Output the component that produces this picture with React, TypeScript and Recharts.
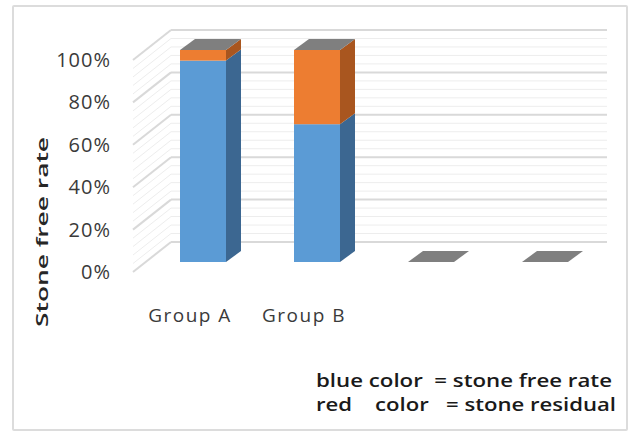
import { BarChart, Bar, XAxis, YAxis, CartesianGrid } from 'recharts';

const categories = ['Group A', 'Group B', '', ''];
const stoneFree = [0.95, 0.65, 0, 0];
const stoneResidual = [0.05, 0.35, 0, 0];
const capValues = [0, 0, 0, 0];
const yTicks = [0, 0.2, 0.4, 0.6, 0.8, 1];
const minorTicks = [
  0.04, 0.08, 0.12, 0.16, 0.24, 0.28, 0.32, 0.36, 0.44, 0.48, 0.52, 0.56,
  0.64, 0.68, 0.72, 0.76, 0.84, 0.88, 0.92, 0.96,
];
const noteLines = ['blue color  = stone free rate', 'red    color   = stone residual'];

const data = categories.map((name, i) => ({
  name: name || ' '.repeat(i),
  free: stoneFree[i],
  residual: stoneResidual[i],
  cap: capValues[i],
}));

// oblique "3d" offsets
const WALL_DX = 38;
const WALL_DY = 30;
const BAR_DX = 13;
const BAR_DY = 10;
const SIDE_DX = 15;
const SIDE_DY = 11;

const gridGen = (values: number[]) => (args: any) => {
  const { yAxis, offset } = args;
  return values.map((v) =>
    yAxis && typeof yAxis.scale === 'function'
      ? yAxis.scale(v)
      : offset.top + offset.height * (1 - v)
  );
};

const wallLine = (stroke: string, sw: number) => (p: any) => (
  <g key={p.key}>
    <line x1={p.x1} y1={p.y1} x2={p.x1 + WALL_DX} y2={p.y1 - WALL_DY} stroke={stroke} strokeWidth={sw} />
    <line x1={p.x1 + WALL_DX} y1={p.y1 - WALL_DY} x2={p.x2 + 18} y2={p.y1 - WALL_DY} stroke={stroke} strokeWidth={sw} />
  </g>
);

const box = (front: string, side: string) => (props: any) => {
  const { x, y, width, height } = props;
  if (x == null || y == null) return <g />;
  const fx = x + BAR_DX;
  const fy = y - BAR_DY;
  const h = Math.max(height, 0);
  return (
    <g>
      <rect x={fx} y={fy} width={width} height={h} fill={front} />
      <polygon
        points={`${fx + width},${fy} ${fx + width + SIDE_DX},${fy - SIDE_DY} ${fx + width + SIDE_DX},${fy + h - SIDE_DY} ${fx + width},${fy + h}`}
        fill={side}
      />
    </g>
  );
};

const capShape = (props: any) => {
  const { x, y, width } = props;
  if (x == null || y == null) return <g />;
  const fx = x + BAR_DX;
  const fy = y - BAR_DY;
  return (
    <polygon
      points={`${fx},${fy} ${fx + width},${fy} ${fx + width + SIDE_DX},${fy - SIDE_DY} ${fx + SIDE_DX},${fy - SIDE_DY}`}
      fill="#7f7f7f"
    />
  );
};

const YTick = (props: any) => (
  <text x={props.x} y={props.y} dy={7} textAnchor="end" fill="#3a3a3a"
    style={{ fontFamily: 'Open Sans', fontSize: 20, letterSpacing: 1 }}>
    {`${Math.round(props.payload.value * 100)}%`}
  </text>
);

const XTick = (props: any) => (
  <text x={props.x} y={props.y + 50} textAnchor="middle" fill="#3a3a3a"
    style={{ fontFamily: 'Open Sans', fontSize: 19, letterSpacing: 1.5 }}>
    {props.payload.value.trim()}
  </text>
);

const axisTitle = (props: any) => {
  const vb = props.viewBox || { x: 0 };
  const cx = vb.x + 42;
  const cy = 232;
  return (
    <text x={cx} y={cy} transform={`rotate(-90 ${cx} ${cy})`} textAnchor="middle" dy={6}
      textLength={190} lengthAdjust="spacingAndGlyphs"
      fill="#262626" style={{ fontFamily: 'Open Sans', fontSize: 17, fontWeight: 600 }}>
      Stone free rate
    </text>
  );
};

export default function App() {
  return (
    <div style={{ position: 'absolute', left: 0, top: 0, width: 633, height: 434, background: '#fff' }}>
      <div style={{ position: 'absolute', left: 12, top: 5, width: 612, height: 422, border: '2px solid #dcdcdc', borderRadius: 2 }} />
      <div style={{ position: 'absolute', left: 0, top: 0 }}>
        <BarChart width={633} height={434} data={data} margin={{ top: 60, right: 44, bottom: 102, left: 0 }}>
          <CartesianGrid vertical={false} horizontalCoordinatesGenerator={gridGen(minorTicks)}
            horizontal={wallLine('#ededed', 1)} />
          <CartesianGrid vertical={false} horizontalCoordinatesGenerator={gridGen(yTicks)}
            horizontal={wallLine('#d9d9d9', 2)} />
          <XAxis dataKey="name" height={60} axisLine={false} tickLine={false} tickSize={0} tickMargin={0}
            tick={<XTick />} interval={0} />
          <YAxis width={133} domain={[0, 1]} ticks={yTicks} axisLine={false} tickLine={false}
            tickSize={0} tickMargin={22} tick={<YTick />} label={{ value: 'Stone free rate', content: axisTitle }} />
          <Bar dataKey="free" stackId="a" barSize={46} isAnimationActive={false} shape={box('#5b9bd5', '#3c6791')} />
          <Bar dataKey="residual" stackId="a" barSize={46} isAnimationActive={false} shape={box('#ed7d31', '#a9561f')} />
          <Bar dataKey="cap" stackId="a" barSize={46} isAnimationActive={false} shape={capShape} />
        </BarChart>
      </div>
      <svg width={633} height={434} style={{ position: 'absolute', left: 0, top: 0, pointerEvents: 'none' }}>
        {noteLines.map((t, i) => (
          <text key={i} x={316} y={387 + i * 24} textLength={i === 0 ? 296 : 300} lengthAdjust="spacingAndGlyphs"
            fill="#1a1a1a" style={{ fontFamily: 'Open Sans', fontSize: 18, fontWeight: 600, whiteSpace: 'pre' }}>
            {t}
          </text>
        ))}
      </svg>
    </div>
  );
}
